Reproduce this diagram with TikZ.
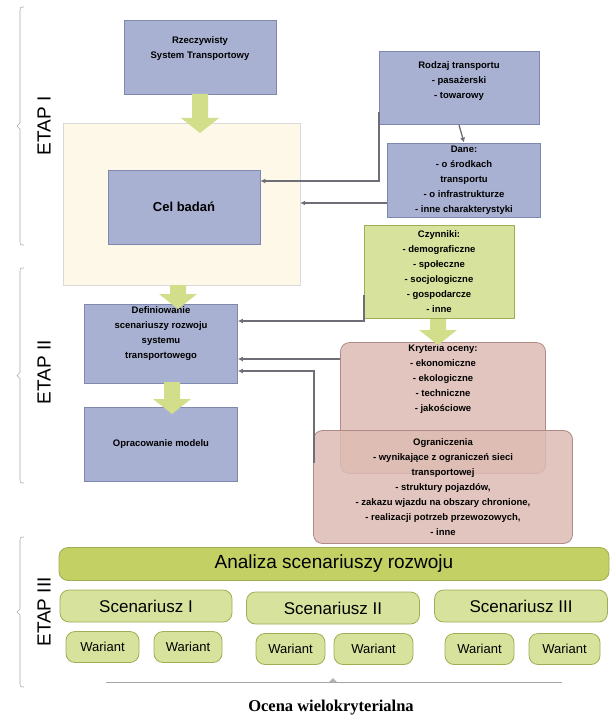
\documentclass[tikz,border=0pt]{standalone}
\usepackage{fontspec}
\usetikzlibrary{arrows.meta}
\setmainfont{Liberation Sans}
\newfontfamily\serifb{Liberation Serif}
\begin{document}
\begin{tikzpicture}[x=1pt,y=-1pt,
  blue/.style={draw=blueB,fill=blueF,line width=0.8pt,font=\bfseries\fontsize{9.5}{15}\selectfont,align=center,inner sep=2pt},
  green/.style={draw=greenB,fill=greenF,line width=0.8pt,font=\bfseries\fontsize{9.5}{15}\selectfont,align=center,inner sep=2pt},
  pink/.style={draw=pinkB,fill=pinkF,fill opacity=0.85,text opacity=1,line width=0.8pt,rounded corners=9pt,font=\bfseries\fontsize{9.5}{15}\selectfont,align=center,inner sep=2pt},
  pill/.style={draw=greenB,fill=greenF,line width=0.8pt,rounded corners=9pt,inner sep=1pt},
  conn/.style={draw=lineC,line width=1.3pt,-{Latex[length=5pt,width=5pt]}},
  barrow/.style={fill=arrowF,draw=none}]
\definecolor{blueF}{HTML}{A9B1D2}\definecolor{blueB}{HTML}{7F88AE}
\definecolor{greenF}{HTML}{D7E29C}\definecolor{greenB}{HTML}{A2AC55}
\definecolor{darkG}{HTML}{C3D064}
\definecolor{pinkF}{HTML}{DDBBB3}\definecolor{pinkB}{HTML}{B08A85}
\definecolor{lineC}{HTML}{6E6E78}\definecolor{arrowF}{HTML}{D3DE8A}
\definecolor{paleY}{HTML}{FDF8E8}
\useasboundingbox (0,0) rectangle (611,727);
\newcommand\barr[3]{\fill[arrowF] (#1-8,#2) -- (#1+8,#2) -- (#1+8,#3-15) -- (#1+19,#3-15) -- (#1,#3) -- (#1-19,#3-15) -- (#1-8,#3-15) -- cycle;}
% brackets
\foreach \a/\b in {7/245,268/483,537/687}{
  \draw[gray!70,line width=0.6pt] (24,\a) .. controls (20,\a) .. (20,\a+6) -- (20,{(\a+\b)/2-3}) -- (17,{(\a+\b)/2}) -- (20,{(\a+\b)/2+3}) -- (20,\b-6) .. controls (20,\b) .. (24,\b);}
\node[rotate=90,font=\fontsize{19}{19}\selectfont] (e1) at (44,126) {ETAP I};
\node[rotate=90,font=\fontsize{19}{19}\selectfont] (e2) at (44,372) {ETAP II};
\node[rotate=90,font=\fontsize{19}{19}\selectfont] (e3) at (44,612) {ETAP III};
% top
\node[draw=black!15,fill=paleY,minimum width=237pt,minimum height=162pt,inner sep=0] (big) at (181.5,204) {};
\node[blue,minimum width=152pt,minimum height=74pt] (rz) at (200,57) {Rzeczywisty\\System Transportowy\\[4pt]};
\node[blue,minimum width=152pt,minimum height=74pt,font=\bfseries\fontsize{13}{15}\selectfont] (cel) at (184,207) {Cel badań};
\node[blue,minimum width=160pt,minimum height=73pt] (rod) at (459,88) {Rodzaj transportu\\- pasażerski\\- towarowy\\~};
\node[blue,minimum width=153pt,minimum height=74pt] (dane) at (464,180) {Dane:\\- o środkach\\transportu\\- o infrastrukturze\\- inne charakterystyki};
\node[green,minimum width=150pt,minimum height=93pt] (czy) at (439,272) {Czynniki:\\- demograficzne\\- społeczne\\- socjologiczne\\- gospodarcze\\- inne};
\node[blue,minimum width=153pt,minimum height=75pt] (def) at (161,344) {Definiowanie\\scenariuszy rozwoju\\systemu\\transportowego\\[8pt]};
\node[blue,minimum width=153pt,minimum height=74pt] (opr) at (161,444) {Opracowanie modelu};
\node[pink,minimum width=205pt,minimum height=123pt] (kry) at (443,408) {Kryteria oceny:\\- ekonomiczne\\- ekologiczne\\- techniczne\\- jakościowe\\[45pt]~};
\node[pink,minimum width=259pt,minimum height=113pt] (ogr) at (443,487) {Ograniczenia\\- wynikające z ograniczeń sieci\\transportowej\\- struktury pojazdów,\\- zakazu wjazdu na obszary chronione,\\- realizacji potrzeb przewozowych,\\- inne};
% block arrows
\barr{200}{94}{133}
\barr{178}{285}{309}
\barr{172}{382}{414}
\barr{438}{319}{345}
% connectors
\coordinate (c1) at (379,112);
\draw[conn] (c1) |- (cel.east |- 0,181);
\draw[conn] (dane.west |- 0,203) -- (big.east |- 0,203);
\draw[conn] (rod.south) -- (dane.north);
\coordinate (c2) at (364,295);
\draw[conn] (c2) |- (def.east |- 0,321);
\draw[conn] (kry.west |- 0,359) -- (def.east |- 0,359);
\coordinate (c3) at (314,463);
\draw[conn] (c3) |- (def.east |- 0,371);
% etap III
\node[pill,fill=darkG,minimum width=550pt,minimum height=33pt,font=\fontsize{19}{19}\selectfont] (an) at (334,564) {Analiza scenariuszy rozwoju};
\node[pill,minimum width=172pt,minimum height=32pt,font=\fontsize{17}{17}\selectfont] (s1) at (146,606) {Scenariusz I};
\node[pill,minimum width=173pt,minimum height=32pt,font=\fontsize{17}{17}\selectfont] (s2) at (333,608) {Scenariusz II};
\node[pill,minimum width=173pt,minimum height=32pt,font=\fontsize{17}{17}\selectfont] (s3) at (521,606) {Scenariusz III};
\foreach \n/\x/\w/\y in {w1/102.5/73/647,w2/188/68/647,w3/290.5/69/649,w4/373.5/79/649,w5/479.5/69/649,w6/564.5/71/649}{
  \node[pill,minimum width=\w pt,minimum height=31pt,font=\fontsize{13}{13}\selectfont] (\n) at (\x,\y) {Wariant};}
\coordinate (l1) at (106,682); \coordinate (l2) at (562,682);
\draw[gray!70,line width=0.8pt] (l1) -- (l2);
\fill[gray!60] (329,682) -- (333,678) -- (337,682) -- cycle;
\node[font=\serifb\bfseries\fontsize{16.5}{16.5}\selectfont] (oc) at (331,708) {Ocena wielokryterialna};
\end{tikzpicture}
\end{document}
